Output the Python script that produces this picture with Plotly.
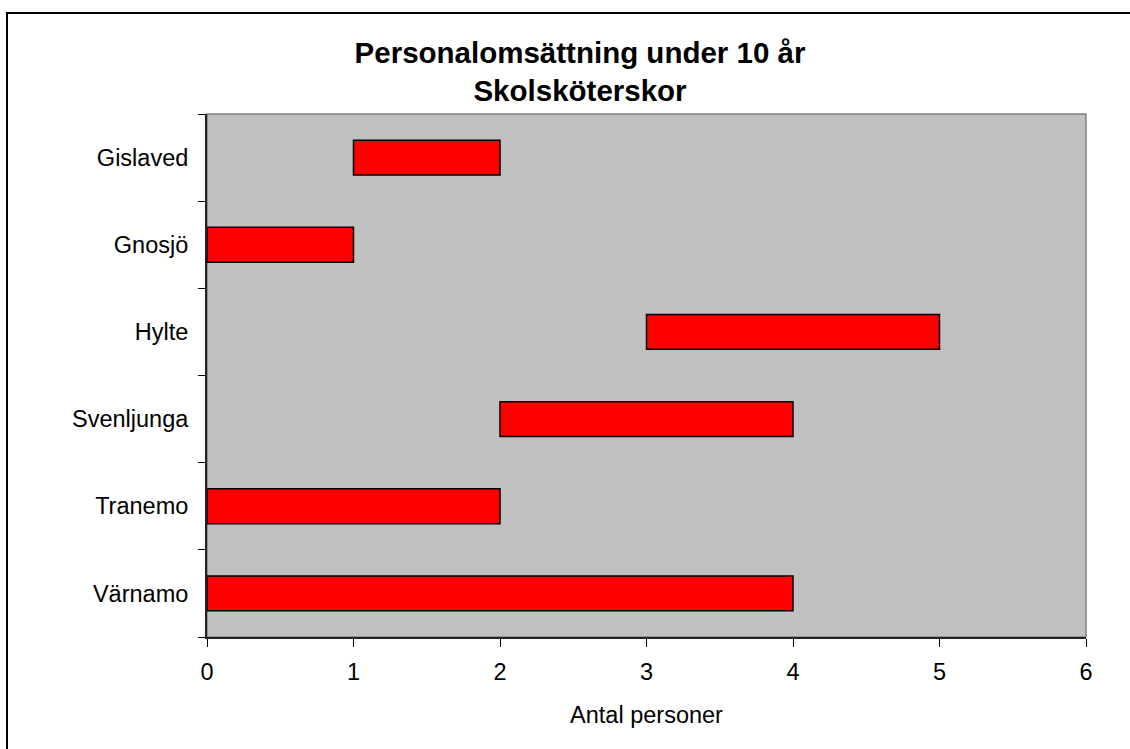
import plotly.graph_objects as go

# Kommuner och personalomsättning (start- och slutvärde för varje stapel)
kommuner = ["Gislaved", "Gnosjö", "Hylte", "Svenljunga", "Tranemo", "Värnamo"]
start = [1, 0, 3, 2, 0, 0]
slut = [2, 1, 5, 4, 2, 4]
x_ticks = [0, 1, 2, 3, 4, 5, 6]

langd = [s - b for b, s in zip(start, slut)]

W, H = 1130, 749
L, R, T, B = 207, 44, 114, 112
pw, ph = W - L - R, H - T - B

fig = go.Figure(
    go.Bar(
        y=kommuner,
        x=langd,
        base=start,
        orientation="h",
        marker=dict(color="#FF0000", line=dict(color="#000000", width=1.5)),
        hoverinfo="skip",
    )
)

font = "Liberation Sans, Arial, sans-serif"

fig.update_layout(
    width=W,
    height=H,
    margin=dict(l=L, r=R, t=T, b=B),
    paper_bgcolor="#FFFFFF",
    plot_bgcolor="#C0C0C0",
    bargap=0.6,
    showlegend=False,
    font=dict(family=font, color="#000000", size=23.5),
    title=dict(
        text="<b>Personalomsättning under 10 år<br>Skolsköterskor</b>",
        font=dict(family=font, size=29.5, color="#000000"),
        x=580 / W,
        xref="container",
        xanchor="center",
        y=1 - 63 / H,
        yref="container",
        yanchor="top",
    ),
    xaxis=dict(
        range=[0, 6],
        tickvals=x_ticks,
        ticktext=[str(v) for v in x_ticks],
        showgrid=False,
        zeroline=False,
        showline=True,
        linecolor="#222222",
        linewidth=2,
        ticks="outside",
        ticklen=8,
        tickwidth=1,
        tickcolor="#000000",
        ticklabelstandoff=5,
        tickfont=dict(size=23.5),
        title=dict(text="Antal personer", font=dict(size=23.5), standoff=22),
        fixedrange=True,
    ),
    yaxis=dict(
        categoryorder="array",
        categoryarray=kommuner[::-1],
        showgrid=False,
        zeroline=False,
        showline=True,
        linecolor="#222222",
        linewidth=2,
        ticks="outside",
        tickson="boundaries",
        ticklen=7,
        tickwidth=1,
        tickcolor="#000000",
        ticklabelstandoff=12,
        tickfont=dict(size=23.5),
        fixedrange=True,
    ),
    shapes=[
        # gray frame around the plotting area
        dict(type="rect", xref="paper", yref="paper", x0=0, x1=1, y0=0, y1=1,
             line=dict(color="#808080", width=1.5), layer="below"),
        # outer chart border
        dict(type="rect", xref="paper", yref="paper",
             x0=(7 - L) / pw, x1=(W + 6 - L) / pw,
             y0=-(H + 6 - (T + ph)) / ph, y1=1 + (T - 13) / ph,
             line=dict(color="#000000", width=2), fillcolor="rgba(0,0,0,0)"),
    ],
)

fig.write_html("out.html")
